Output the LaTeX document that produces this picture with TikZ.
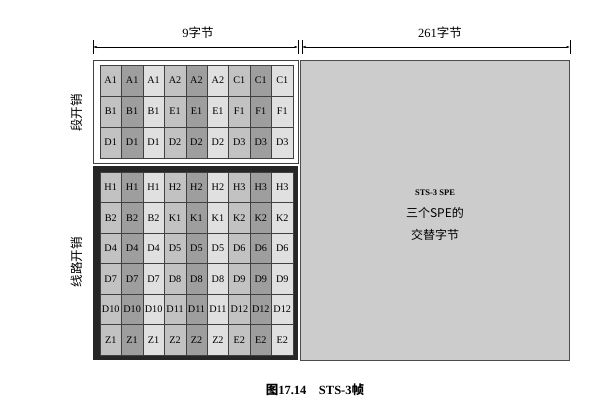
\documentclass[tikz,border=0pt]{standalone}
\usepackage{fontspec}
\setmainfont{Liberation Serif}
\newfontfamily\cjk{Noto Sans CJK SC}
\usetikzlibrary{arrows.meta, positioning}

\definecolor{colA}{gray}{0.76}
\definecolor{colB}{gray}{0.62}
\definecolor{colC}{gray}{0.88}
\definecolor{speFill}{gray}{0.80}
\definecolor{lineDark}{gray}{0.25}

\tikzset{
  cell/.style={draw=lineDark, line width=0.5pt, minimum width=21.44pt, minimum height=#1,
    inner sep=0pt, outer sep=0pt, anchor=north west, font=\fontsize{10.2}{11}\selectfont},
  cell/.default=31pt,
  dimline/.style={line width=0.5pt, {Latex[length=3.5pt,width=2.2pt]}-{Latex[length=3.5pt,width=2.2pt]}},
  tick/.style={line width=0.5pt},
  sidelabel/.style={rotate=90, font=\cjk\fontsize{12.5}{14}\selectfont},
}

\begin{document}
\begin{tikzpicture}[x=1pt, y=-1pt]
  \useasboundingbox (0,0) rectangle (592,407);

  % boxes
  \draw[lineDark, line width=0.7pt, fill=white] (93,60) rectangle (298,163);
  \fill[black!85] (93,166) rectangle (298,360);
  \draw[gray!60!black, line width=0.6pt, fill=speFill] (300,60) rectangle (569,360);

  % section overhead
  \foreach \r/\a/\b/\c in {0/A1/A2/C1, 1/B1/E1/F1, 2/D1/D2/D3}
    \foreach \l [count=\k from 0] in {\a,\b,\c}
      \foreach \j/\f in {0/colA, 1/colB, 2/colC}
        \node[cell, fill=\f] (s\r\k\j) at ({100+21.44*(3*\k+\j)}, {65+31*\r}) {\l};

  % line overhead
  \foreach \r/\a/\b/\c in {0/H1/H2/H3, 1/B2/K1/K2, 2/D4/D5/D6, 3/D7/D8/D9, 4/D10/D11/D12, 5/Z1/Z2/E2}
    \foreach \l [count=\k from 0] in {\a,\b,\c}
      \foreach \j/\f in {0/colA, 1/colB, 2/colC}
        \node[cell=30.5pt, fill=\f] (l\r\k\j) at ({100+21.44*(3*\k+\j)}, {172+30.5*\r}) {\l};

  \node[sidelabel] (soh) at (77,113) {段开销};
  \node[sidelabel] (loh) at (77,262) {线路开销};

  % dimensions
  \coordinate (d1) at (93,47);  \coordinate (d2) at (298,47);
  \coordinate (d3) at (302,47); \coordinate (d4) at (570,47);
  \foreach \p in {d1,d2,d3,d4}
    \draw[tick] ([yshift=-7pt]\p) -- ([yshift=7pt]\p);
  \draw[dimline] (d1) -- (d2);
  \draw[dimline] (d3) -- (d4);
  \node[font=\fontsize{12.5}{14}\selectfont] (w9) at (198,33) {9{\cjk 字节}};
  \node[font=\fontsize{12.5}{14}\selectfont] (w261) at (440,33) {261{\cjk 字节}};

  % payload
  \node[font=\bfseries\fontsize{8.5}{10}\selectfont] (spe) at (435,193) {STS-3 SPE};
  \node[font=\cjk\fontsize{12}{14}\selectfont] (spe2) at (435,213) {三个SPE的};
  \node[font=\cjk\fontsize{12}{14}\selectfont] (spe3) at (435,235) {交替字节};

  \node[font=\bfseries\fontsize{12.5}{14}\selectfont] (cap) at (315,390) {{\cjk\bfseries 图}17.14\quad STS-3{\cjk\bfseries 帧}};
\end{tikzpicture}
\end{document}
